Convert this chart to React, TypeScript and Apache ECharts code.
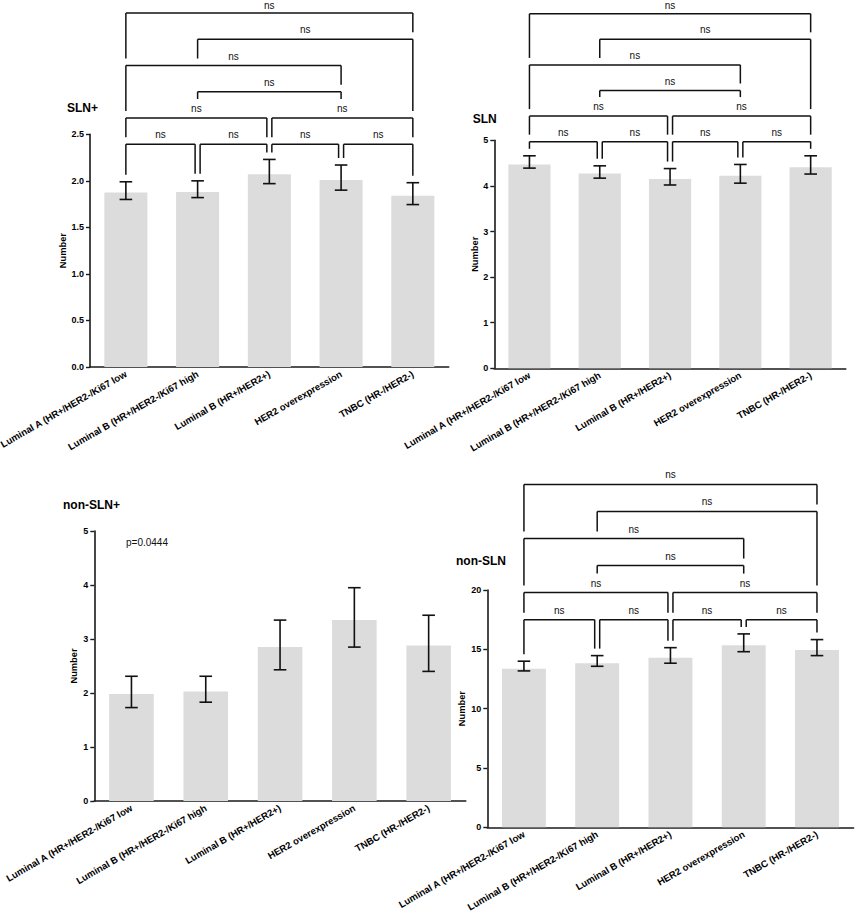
import React, { useEffect, useRef } from "react";
import * as echarts from "echarts";

const categories = [
  "Luminal A (HR+/HER2-/Ki67 low",
  "Luminal B (HR+/HER2-/Ki67 high",
  "Luminal B (HR+/HER2+)",
  "HER2 overexpression",
  "TNBC (HR-/HER2-)",
];

const slnPosMean = [1.875, 1.88, 2.07, 2.01, 1.84];
const slnPosLow = [1.8, 1.82, 1.97, 1.9, 1.745];
const slnPosHigh = [1.99, 2.0, 2.23, 2.17, 1.98];

const slnMean = [4.47, 4.27, 4.15, 4.22, 4.41];
const slnLow = [4.39, 4.17, 4.02, 4.06, 4.26];
const slnHigh = [4.66, 4.44, 4.38, 4.47, 4.66];

const nonSlnPosMean = [1.98, 2.03, 2.85, 3.35, 2.88];
const nonSlnPosLow = [1.73, 1.83, 2.43, 2.85, 2.4];
const nonSlnPosHigh = [2.31, 2.31, 3.35, 3.95, 3.44];

const nonSlnMean = [13.37, 13.83, 14.3, 15.35, 14.95];
const nonSlnLow = [13.18, 13.57, 13.83, 14.8, 14.47];
const nonSlnHigh = [14.0, 14.47, 15.14, 16.3, 15.82];

// pairwise comparisons (category index pairs), their stacking row, and label
const comparisons = [
  [0, 1], [1, 2], [2, 3], [3, 4],
  [0, 2], [2, 4],
  [1, 3],
  [0, 3],
  [1, 4],
  [0, 4],
];
const comparisonRows = [0, 0, 0, 0, 1, 1, 2, 3, 4, 5];
const comparisonLabels = ["ns", "ns", "ns", "ns", "ns", "ns", "ns", "ns", "ns", "ns"];

const panelTitles = ["SLN+", "SLN", "non-SLN+", "non-SLN"];
const pValueText = "p=0.0444";

const FONT = "'Liberation Sans', Arial, Helvetica, sans-serif";

type Panel = {
  title: string;
  titlePos: [number, number];
  grid: { left: number; top: number; width: number; height: number };
  yMax: number;
  yInterval: number;
  decimals: number;
  nameGap: number;
  mean: number[];
  low: number[];
  high: number[];
  sig: { base: number; step: number } | null;
};

const panels: Panel[] = [
  {
    title: panelTitles[0],
    titlePos: [67, 102],
    grid: { left: 90, top: 134.3, width: 358.7, height: 232.7 },
    yMax: 2.5,
    yInterval: 0.5,
    decimals: 1,
    nameGap: 23,
    mean: slnPosMean,
    low: slnPosLow,
    high: slnPosHigh,
    sig: { base: 2.393, step: 0.282 },
  },
  {
    title: panelTitles[1],
    titlePos: [472.7, 113],
    grid: { left: 494.3, top: 140.3, width: 351.5, height: 228 },
    yMax: 5,
    yInterval: 1,
    decimals: 0,
    nameGap: 15,
    mean: slnMean,
    low: slnLow,
    high: slnHigh,
    sig: { base: 4.97, step: 0.561 },
  },
  {
    title: panelTitles[2],
    titlePos: [63, 499],
    grid: { left: 94.3, top: 531, width: 371.5, height: 270 },
    yMax: 5,
    yInterval: 1,
    decimals: 0,
    nameGap: 16,
    mean: nonSlnPosMean,
    low: nonSlnPosLow,
    high: nonSlnPosHigh,
    sig: null,
  },
  {
    title: panelTitles[3],
    titlePos: [456, 555],
    grid: { left: 487.3, top: 590, width: 366.3, height: 237.3 },
    yMax: 20,
    yInterval: 5,
    decimals: 0,
    nameGap: 21,
    mean: nonSlnMean,
    low: nonSlnLow,
    high: nonSlnHigh,
    sig: { base: 17.5, step: 2.28 },
  },
];

type Obstacle = { kind: "err" | "line" | "label"; row: number; c: number };

function legObstacle(k: number, c: number): Obstacle {
  const row = comparisonRows[k];
  for (let r = row - 1; r >= 0; r--) {
    for (let m = 0; m < comparisons.length; m++) {
      if (comparisonRows[m] !== r) continue;
      const [a, b] = comparisons[m];
      if (a <= c && c <= b) {
        return { kind: (a + b) / 2 === c ? "label" : "line", row: r, c };
      }
    }
  }
  return { kind: "err", row: -1, c };
}

function legShift(k: number, c: number): number {
  const row = comparisonRows[k];
  const [a, b] = comparisons[k];
  for (let m = 0; m < comparisons.length; m++) {
    if (m === k || comparisonRows[m] !== row) continue;
    const [ma, mb] = comparisons[m];
    if (ma === c || mb === c) {
      if (c === b) return -2.5;
      if (c === a) return 2.5;
    }
  }
  return 0;
}

function buildOption() {
  const grids: any[] = [];
  const xAxes: any[] = [];
  const yAxes: any[] = [];
  const series: any[] = [];
  const titles: any[] = [];

  panels.forEach((p, idx) => {
    grids.push({ ...p.grid, containLabel: false, outerBoundsMode: "none" });
    titles.push({
      text: p.title,
      left: p.titlePos[0],
      top: p.titlePos[1],
      padding: 0,
      textStyle: { fontSize: 12, fontWeight: "bold", fontFamily: FONT, color: "#000" },
    });
    xAxes.push({
      type: "category",
      gridIndex: idx,
      data: categories,
      axisLine: { lineStyle: { color: "#1a1a1a", width: 1.6 } },
      axisTick: { alignWithLabel: true, length: 4, lineStyle: { color: "#1a1a1a", width: 1.4 } },
      axisLabel: {
        interval: 0,
        rotate: 30,
        margin: 6,
        fontSize: 9.6,
        fontWeight: "bold",
        fontFamily: FONT,
        color: "#000",
      },
      splitLine: { show: false },
    });
    yAxes.push({
      type: "value",
      gridIndex: idx,
      min: 0,
      max: p.yMax,
      interval: p.yInterval,
      name: "Number",
      nameLocation: "middle",
      nameGap: p.nameGap,
      nameRotate: 90,
      nameTextStyle: { fontSize: 9.3, fontWeight: "bold", fontFamily: FONT, color: "#000" },
      axisLine: { show: true, lineStyle: { color: "#1a1a1a", width: 1.6 } },
      axisTick: { show: true, length: 4, lineStyle: { color: "#1a1a1a", width: 1.4 } },
      axisLabel: {
        margin: 6,
        fontSize: 9,
        fontWeight: "bold",
        fontFamily: FONT,
        color: "#000",
        formatter: (v: number) => v.toFixed(p.decimals),
      },
      splitLine: { show: false },
    });

    series.push({
      type: "bar",
      xAxisIndex: idx,
      yAxisIndex: idx,
      data: p.mean,
      barWidth: "60%",
      itemStyle: { color: "#dcdcdc" },
      silent: true,
      z: 2,
    });

    series.push({
      type: "custom",
      xAxisIndex: idx,
      yAxisIndex: idx,
      clip: false,
      silent: true,
      z: 5,
      data: categories.map((_, i) => [i, p.low[i], p.high[i]]),
      encode: { x: 0, y: [1, 2] },
      renderItem: (params: any, api: any) => {
        const i = api.value(0);
        const lo = api.coord([i, api.value(1)]);
        const hi = api.coord([i, api.value(2)]);
        const hw = 6.3;
        const st = { stroke: "#111", lineWidth: 1.6 };
        return {
          type: "group",
          children: [
            { type: "line", shape: { x1: lo[0], y1: lo[1], x2: hi[0], y2: hi[1] }, style: st },
            { type: "line", shape: { x1: hi[0] - hw, y1: hi[1], x2: hi[0] + hw, y2: hi[1] }, style: st },
            { type: "line", shape: { x1: lo[0] - hw, y1: lo[1], x2: lo[0] + hw, y2: lo[1] }, style: st },
          ],
        };
      },
    });

    if (p.sig) {
      const { base, step } = p.sig;
      series.push({
        type: "custom",
        xAxisIndex: idx,
        yAxisIndex: idx,
        clip: false,
        silent: true,
        z: 5,
        data: comparisons.map(([a], k) => [a, base + comparisonRows[k] * step]),
        encode: { x: 0, y: 1 },
        renderItem: (params: any, api: any) => {
          const k = params.dataIndex;
          const [a, b] = comparisons[k];
          const rowVal = base + comparisonRows[k] * step;
          const pa = api.coord([a, rowVal]);
          const pb = api.coord([b, rowVal]);
          const y = pa[1];
          const xa = pa[0] + legShift(k, a);
          const xb = pb[0] + legShift(k, b);
          const bottom = (c: number) => {
            const o = legObstacle(k, c);
            if (o.kind === "err") return api.coord([c, p.high[c]])[1] - 7;
            const ly = api.coord([c, base + o.row * step])[1];
            return o.kind === "line" ? ly - 7 : ly - 19;
          };
          const st = { stroke: "#111", lineWidth: 1.5 };
          return {
            type: "group",
            children: [
              { type: "line", shape: { x1: xa, y1: y, x2: xb, y2: y }, style: st },
              { type: "line", shape: { x1: xa, y1: y, x2: xa, y2: bottom(a) }, style: st },
              { type: "line", shape: { x1: xb, y1: y, x2: xb, y2: bottom(b) }, style: st },
              {
                type: "text",
                style: {
                  text: comparisonLabels[k],
                  x: (xa + xb) / 2,
                  y: Math.max(y - 9.5, 5.6),
                  align: "center",
                  verticalAlign: "middle",
                  textAlign: "center",
                  textVerticalAlign: "middle",
                  fontSize: 10,
                  fontFamily: FONT,
                  fill: "#111",
                },
              },
            ],
          };
        },
      });
    }
  });

  return {
    animation: false,
    backgroundColor: "#fff",
    title: titles,
    grid: grids,
    xAxis: xAxes,
    yAxis: yAxes,
    series,
    graphic: [
      {
        type: "text",
        left: 126,
        top: 537,
        style: { text: pValueText, fontSize: 10, fontFamily: FONT, fill: "#111" },
      },
    ],
  };
}

export default function App() {
  const ref = useRef<HTMLDivElement>(null);
  useEffect(() => {
    if (!ref.current) return;
    const chart = echarts.init(ref.current, undefined, { renderer: "svg" });
    chart.setOption(buildOption() as any);
    return () => chart.dispose();
  }, []);
  return (
    <div
      ref={ref}
      style={{ position: "absolute", left: 0, top: 0, width: 858, height: 917, background: "#fff" }}
    />
  );
}
